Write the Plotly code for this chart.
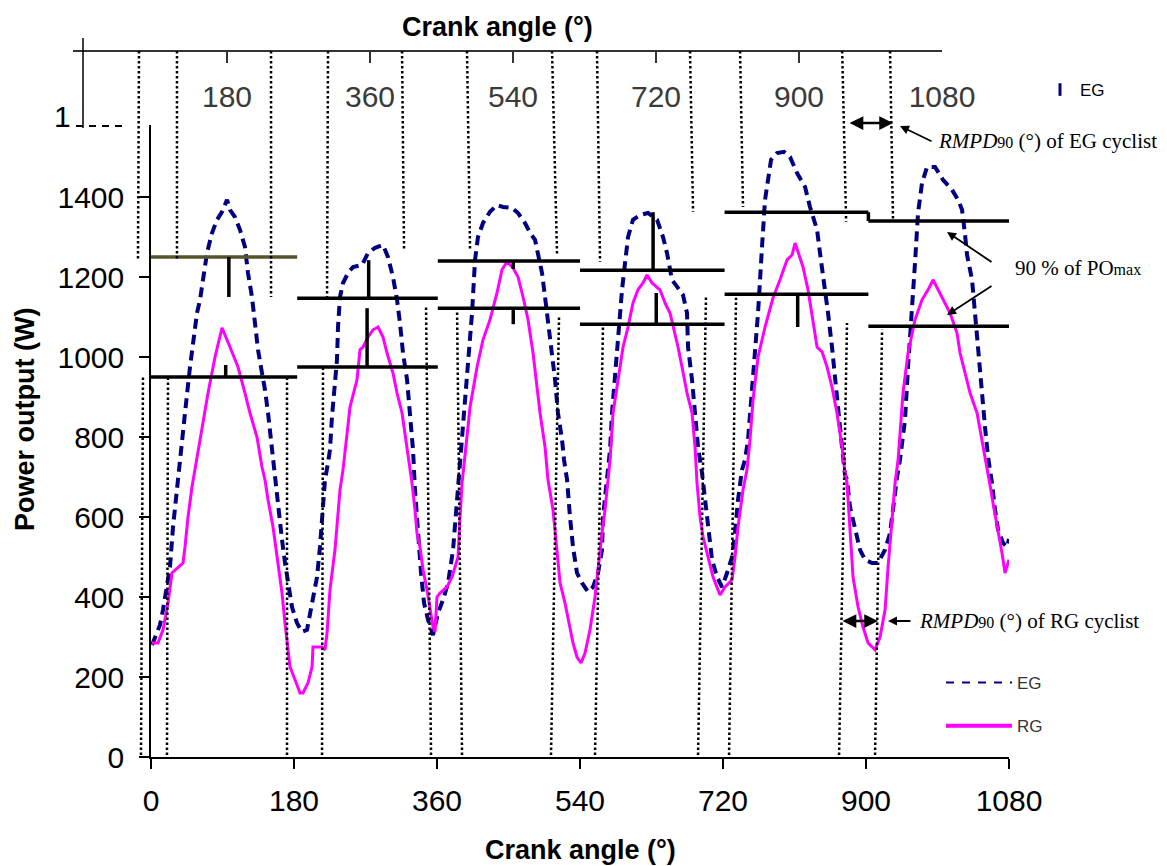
import plotly.graph_objects as go

# ---------------- data ----------------
EG_ANGLE = [1.3, 5.0, 11.3, 15.1, 17.6, 23.9, 27.7, 32.7, 36.5, 42.8, 49.1, 52.9, 57.9, 61.7, 65.5, 70.5, 76.8, 83.1, 89.4, 95.7,
            99.4, 105.7, 112.0, 118.3, 122.1, 127.1, 130.9, 134.7, 139.7, 143.5, 147.3, 152.3, 158.6, 164.9, 168.7, 172.5, 177.5,
            183.8, 190.1, 196.4, 202.7, 209.0, 212.7, 215.3, 219.0, 222.8, 225.3, 227.8, 230.4, 232.9, 234.1, 235.4, 237.9, 241.7,
            248.0, 254.3, 265.6, 273.2, 282.0, 292.0, 298.3, 304.6, 309.7, 313.4, 317.2, 322.3, 326.0, 329.8, 332.3, 336.1, 339.9,
            343.7, 348.7, 355.0, 361.3, 367.6, 373.9, 380.2, 385.2, 389.0, 391.5, 397.8, 404.1, 407.9, 411.6, 417.9, 426.7, 435.5,
            443.1, 454.4, 462.0, 470.8, 477.1, 483.4, 487.2, 492.2, 496.0, 499.7, 504.8, 508.6, 512.3, 517.4, 519.9, 523.7, 527.4,
            531.2, 536.2, 542.5, 550.1, 556.4, 562.7, 567.7, 569.0, 574.0, 577.8, 580.3, 584.1, 587.9, 592.9, 596.7, 600.5, 606.7,
            615.6, 625.6, 637.0, 644.5, 649.5, 655.8, 662.1, 669.7, 674.7, 676.0, 681.0, 684.8, 688.6, 693.6, 697.4, 701.2, 706.2,
            712.5, 718.8, 725.1, 731.4, 735.1, 738.9, 743.9, 747.7, 751.5, 757.8, 764.1, 769.1, 772.9, 780.5, 788.0, 796.8, 804.4,
            813.2, 823.3, 829.5, 838.4, 842.1, 848.4, 852.2, 857.2, 861.0, 864.8, 869.8, 873.6, 876.1, 879.9, 886.2, 892.5, 898.8,
            907.6, 915.1, 924.0, 930.3, 934.0, 939.1, 942.8, 949.1, 952.9, 958.0, 961.7, 965.5, 970.5, 976.8, 986.9, 996.9, 1008.3,
            1015.9, 1020.9, 1024.7, 1027.2, 1033.5, 1037.3, 1041.0, 1046.1, 1049.8, 1053.6, 1058.6, 1062.4, 1066.2, 1072.5, 1077.5, 1080.0]
EG_POWER = [280, 300, 330, 368, 400, 475, 575, 675, 738, 860, 975, 1035, 1110, 1143, 1200, 1260, 1310, 1343, 1363, 1393,
            1368, 1350, 1318, 1275, 1210, 1150, 1085, 1018, 960, 918, 860, 768, 643, 543, 485, 435, 375,
            335, 313, 318, 385, 450, 525, 600, 693, 735, 768, 850, 900, 960, 993, 1075, 1150, 1185,
            1210, 1225, 1230, 1260, 1273, 1280, 1250, 1200, 1143, 1085, 1010, 943, 868, 768, 668, 555, 460,
            385, 343, 305, 360, 393, 435, 518, 643, 743, 825, 975, 1110, 1243, 1300, 1335, 1363, 1380,
            1375, 1373, 1360, 1335, 1310, 1293, 1260, 1210, 1150, 1093, 1018, 943, 860, 793, 743, 693, 600,
            525, 460, 435, 413, 425, 460, 518, 600, 685, 768, 860, 960, 1068, 1168, 1235, 1300, 1343,
            1355, 1360, 1343, 1300, 1260, 1193, 1175, 1155, 1110, 1025, 943, 860, 775, 710, 643, 568, 493,
            450, 425, 460, 500, 560, 643, 718, 743, 793, 943, 1110, 1275, 1393, 1493, 1510, 1513, 1500,
            1460, 1425, 1375, 1318, 1260, 1175, 1110, 1025, 943, 860, 775, 705, 693, 625, 568, 518, 493,
            485, 485, 518, 560, 625, 700, 743, 843, 975, 1110, 1235, 1360, 1435, 1475, 1475, 1443, 1418,
            1393, 1368, 1305, 1255, 1193, 1105, 1005, 910, 825, 750, 685, 618, 568, 535, 525, 545]

RG_ANGLE = [1.3, 8.8, 15.1, 21.4, 26.4, 34.0, 40.3, 42.8, 46.6, 51.6, 55.4, 61.7, 71.8, 80.6, 86.9, 89.4, 99.4, 109.5, 118.3,
            124.6, 133.4, 139.7, 143.5, 147.3, 153.6, 159.9, 164.9, 168.7, 171.2, 175.0, 181.3, 187.6, 191.3, 197.6, 202.7, 203.9,
            215.3, 219.0, 221.6, 225.3, 231.6, 237.9, 241.7, 250.5, 259.3, 263.1, 266.9, 273.2, 279.5, 285.8, 292.0, 297.1, 304.6,
            309.7, 316.0, 322.3, 328.5, 332.3, 334.8, 338.6, 342.4, 347.4, 351.2, 355.0, 357.5, 360.0, 363.8, 372.6, 378.9, 386.5,
            389.0, 391.5, 395.3, 401.6, 410.4, 417.9, 426.7, 435.5, 441.8, 448.1, 455.7, 462.0, 468.3, 474.6, 480.9, 489.7, 496.0,
            499.7, 506.0, 511.1, 514.9, 521.1, 531.2, 536.2, 541.3, 546.3, 552.6, 558.9, 562.7, 567.7, 571.5, 575.3, 577.8, 581.6,
            587.9, 594.2, 600.5, 606.7, 613.0, 619.3, 624.4, 630.7, 640.7, 647.0, 653.3, 659.6, 663.4, 668.4, 674.7, 681.0, 684.8,
            687.3, 691.1, 694.9, 701.2, 707.5, 716.3, 722.6, 731.4, 735.1, 738.9, 745.2, 750.2, 754.0, 757.8, 764.1, 772.9, 779.2,
            783.0, 791.8, 800.6, 806.9, 810.7, 814.4, 820.7, 827.0, 833.3, 838.4, 844.7, 851.0, 857.2, 863.5, 869.8, 873.6, 876.1,
            879.9, 883.7, 890.0, 896.3, 902.6, 911.4, 917.7, 924.0, 927.8, 932.8, 936.6, 940.4, 942.8, 946.6, 952.9, 961.7, 970.5,
            978.1, 984.4, 990.7, 997.0, 1005.8, 1014.6, 1018.4, 1024.7, 1031.0, 1039.8, 1046.1, 1052.4, 1056.1, 1059.9, 1066.2,
            1071.2, 1075.0, 1078.8, 1080.0]
RG_POWER = [285, 285, 318, 385, 460, 473, 485, 525, 600, 675, 718, 800, 910, 1000, 1050, 1073, 1025, 975, 910,
            860, 800, 725, 693, 643, 575, 485, 410, 335, 285, 225, 193, 160, 160, 185, 225, 275,
            275, 268, 310, 418, 518, 668, 718, 875, 943, 1018, 1025, 1050, 1068, 1075, 1050, 1010, 960,
            910, 860, 775, 685, 618, 560, 525, 468, 418, 368, 325, 313, 400, 410, 425, 450, 500,
            600, 685, 755, 875, 975, 1043, 1093, 1160, 1218, 1238, 1223, 1200, 1150, 1093, 1010, 860, 775,
            693, 618, 518, 435, 385, 285, 250, 235, 260, 318, 400, 475, 560, 618, 685, 743, 860,
            943, 1025, 1075, 1135, 1168, 1185, 1205, 1185, 1168, 1135, 1110, 1060, 1025, 975, 910, 860, 775,
            685, 600, 550, 500, 450, 405, 425, 443, 500, 575, 668, 718, 793, 893, 1000, 1075, 1125,
            1148, 1193, 1243, 1255, 1285, 1263, 1225, 1168, 1093, 1025, 1013, 975, 925, 860, 775, 710, 685,
            560, 450, 375, 325, 285, 268, 300, 368, 475, 585, 685, 743, 818, 910, 1010, 1093, 1143,
            1168, 1193, 1168, 1143, 1110, 1060, 1010, 960, 910, 860, 793, 725, 680, 635, 568,
            510, 460, 485, 493]

# 90 % of POmax levels per half-cycle segment
SEG_BOUNDS = [0, 184, 361, 540, 722, 903, 1080]
EG_90 = [1250, 1147, 1240, 1217, 1362, 1340]
RG_90 = [950, 975, 1122, 1082, 1157, 1077]

# peak markers (angle, from, to)
PEAK_ANGLE = [98, 94, 274, 272, 456, 456, 632, 636, 814]
PEAK_FROM = [1250, 950, 1147, 975, 1240, 1122, 1217, 1082, 1157]
PEAK_TO = [1150, 980, 1242, 1122, 1220, 1082, 1362, 1160, 1075]

# dotted RMPD boundaries hanging from the top axis (angle at top, angle at end, end power)
TOP_DOT_A0 = [-15.1, 32.7, 151.1, 222.8, 316.0, 397.8, 504.8, 561.4, 678.5, 741.5, 870.0, 930.3]
TOP_DOT_A1 = [-16.4, 32.7, 151.1, 221.6, 318.5, 401.6, 511.1, 565.2, 682.3, 745.2, 875.0, 934.0]
TOP_DOT_W1 = [1243, 1243, 1150, 1150, 1268, 1268, 1255, 1238, 1363, 1375, 1338, 1343]
TOP_DOT_W0 = 1765
# dotted RMPD boundaries standing on the bottom axis
BOT_DOT_A0 = [-12.6, 20.1, 171.2, 215.3, 352.5, 391.5, 503.5, 558.9, 688.6, 727.6, 866.1, 911.4]
BOT_DOT_A1 = [-10.1, 21.4, 171.2, 216.5, 346.2, 385.2, 513.6, 569.0, 698.6, 736.4, 876.1, 920.2]
BOT_DOT_W1 = [950, 950, 950, 975, 1130, 1125, 1100, 1085, 1155, 1148, 1085, 1068]
BOT_DOT_W0 = 5

X_TICKS = [0, 180, 360, 540, 720, 900, 1080]
TOP_TICKS = [180, 360, 540, 720, 900, 1080]
Y_TICKS = [0, 200, 400, 600, 800, 1000, 1200, 1400]

# ---------------- geometry ----------------
OFF = 8                      # page margin of the html body
FW, FH = 1167 - OFF, 866 - OFF
S = 858 / 1080.0             # px per degree
PXW = 0.4                    # px per watt


def X(p):
    return (p - OFF) / FW


def Y(p):
    return 1 - (p - OFF) / FH


SANS = "Liberation Sans, Arial, sans-serif"
SERIF = "Liberation Serif, Times New Roman, serif"
NAVY = "#000080"
MAG = "#FF00FF"

fig = go.Figure()
fig.add_trace(go.Scatter(x=EG_ANGLE, y=EG_POWER, mode="lines", name="EG", showlegend=False,
                         line=dict(color=NAVY, width=4, dash="10px,6px")))
fig.add_trace(go.Scatter(x=RG_ANGLE, y=RG_POWER, mode="lines", name="RG", showlegend=False,
                         line=dict(color=MAG, width=3)))
# legend entries
fig.add_trace(go.Scatter(x=[None], y=[None], mode="lines", name="EG", legendgroup="eg",
                         line=dict(color=NAVY, width=2, dash="8px,8px")))
fig.add_trace(go.Scatter(x=[None], y=[None], mode="lines", name="RG", legendgroup="rg",
                         line=dict(color=MAG, width=4)))
fig.add_trace(go.Scatter(x=[None], y=[None], mode="markers", name="EG", legend="legend2",
                         marker=dict(symbol="line-ns", size=9, color=NAVY, line=dict(color=NAVY, width=3))))
# helper subplots
for xa, ya in [("x2", "y"), ("x3", "y"), ("x4", "y2")]:
    fig.add_trace(go.Scatter(x=[None], y=[None], xaxis=xa, yaxis=ya, showlegend=False, hoverinfo="skip"))

shapes = []
for i in range(6):
    shapes.append(dict(type="line", xref="x", yref="y", x0=SEG_BOUNDS[i], x1=SEG_BOUNDS[i + 1],
                       y0=EG_90[i], y1=EG_90[i],
                       line=dict(color="#55552b" if i == 0 else "black", width=3.5)))
    shapes.append(dict(type="line", xref="x", yref="y", x0=SEG_BOUNDS[i], x1=SEG_BOUNDS[i + 1],
                       y0=RG_90[i], y1=RG_90[i], line=dict(color="black", width=3.5)))
shapes.append(dict(type="line", xref="x", yref="y", x0=SEG_BOUNDS[5], x1=SEG_BOUNDS[5],
                   y0=EG_90[4], y1=EG_90[5], line=dict(color="black", width=3.5)))
for a, f, t in zip(PEAK_ANGLE, PEAK_FROM, PEAK_TO):
    shapes.append(dict(type="line", xref="x", yref="y", x0=a, x1=a, y0=f, y1=t,
                       line=dict(color="black", width=3.5)))
dot = dict(color="black", width=2.5, dash="2.5px,2.5px")
for a0, a1, w1 in zip(TOP_DOT_A0, TOP_DOT_A1, TOP_DOT_W1):
    shapes.append(dict(type="line", xref="x4", yref="y2", x0=a0, x1=a1, y0=TOP_DOT_W0, y1=w1, line=dot))
for a0, a1, w1 in zip(BOT_DOT_A0, BOT_DOT_A1, BOT_DOT_W1):
    shapes.append(dict(type="line", xref="x4", yref="y2", x0=a0, x1=a1, y0=BOT_DOT_W0, y1=w1, line=dot))
# left end of the upper axis and the clipped 1600 label
shapes.append(dict(type="line", xref="x4", yref="y2", x0=-85.6, x1=-85.6, y0=1797.5, y1=1572.5,
                   line=dict(color="black", width=1.5)))
shapes.append(dict(type="line", xref="x4", yref="y2", x0=-94.4, x1=-36.5, y0=1577.5, y1=1577.5,
                   line=dict(color="black", width=2, dash="7px,6px")))

ann = []


def arrow(xh, yh, xt, yt, both=False, w=1.8, size=1.0):
    ann.append(dict(xref="x4", yref="y2", axref="x4", ayref="y2", x=xh, y=yh, ax=xt, ay=yt, text="",
                    showarrow=True, arrowhead=2, arrowsize=size, arrowwidth=w, arrowcolor="black",
                    arrowside="end+start" if both else "end", standoff=0, startstandoff=0))


arrow(934.0, 1585, 877.4, 1585, both=True, w=2.5, size=1.1)
arrow(942.8, 1577.5, 984.4, 1537.5)
arrow(1002.0, 1312.5, 1059.9, 1235)
arrow(1002.0, 1105, 1059.9, 1180)
arrow(915.1, 340, 868.6, 340, both=True, w=2.5, size=1.1)
arrow(927.7, 340, 957.9, 340)

ann.append(dict(xref="x4", yref="y2", x=988.1, y=1540, xanchor="left", yanchor="middle", showarrow=False,
                text="<i>RMPD</i><span style='font-size:16px'>90</span> (°) of EG cyclist",
                font=dict(family=SERIF, size=21, color="black")))
ann.append(dict(xref="x4", yref="y2", x=1085.0, y=1222.5, xanchor="left", yanchor="middle", showarrow=False,
                text="90 % of PO<span style='font-size:16px'>max</span>",
                font=dict(family=SERIF, size=21, color="black")))
ann.append(dict(xref="x4", yref="y2", x=964.2, y=340, xanchor="left", yanchor="middle", showarrow=False,
                text="<i>RMPD</i><span style='font-size:16px'>90</span> (°) of RG cyclist",
                font=dict(family=SERIF, size=21, color="black")))
# titles
ann.append(dict(xref="paper", yref="paper", x=X(580), y=Y(850), xanchor="center", yanchor="middle",
                showarrow=False, text="<b>Crank angle (°)</b>", font=dict(family=SANS, size=27, color="black")))
ann.append(dict(xref="paper", yref="paper", x=X(497), y=Y(27), xanchor="center", yanchor="middle",
                showarrow=False, text="<b>Crank angle (°)</b>", font=dict(family=SANS, size=27, color="black")))
ann.append(dict(xref="paper", yref="paper", x=X(25), y=Y(420), xanchor="center", yanchor="middle",
                showarrow=False, textangle=-90,
                text="<b>Power output (W)</b>", font=dict(family=SANS, size=27, color="black")))
ann.append(dict(xref="paper", yref="paper", x=X(52), y=Y(117), xanchor="left", yanchor="middle",
                showarrow=False, text="1", font=dict(family=SANS, size=30, color="black")))

noax = dict(showgrid=False, zeroline=False)
fig.update_layout(
    width=FW, height=FH, template="none",
    margin=dict(l=0, r=0, t=0, b=0),
    paper_bgcolor="white", plot_bgcolor="rgba(0,0,0,0)",
    font=dict(family=SANS, color="black"),
    xaxis=dict(domain=[X(151), X(1009)], range=[0, 1080], anchor="y", tickvals=X_TICKS,
               showline=True, linecolor="black", linewidth=1.5, ticks="outside", ticklen=10, tickwidth=1.5,
               tickcolor="black", tickfont=dict(size=30, family=SANS), ticklabelstandoff=6,
               automargin=False, **noax),
    yaxis=dict(domain=[Y(757), Y(125)], range=[0, 1580], anchor="x", tickvals=Y_TICKS,
               showline=True, linecolor="black", linewidth=1.5, ticks="outside", ticklen=10, tickwidth=1.5,
               tickcolor="black", tickfont=dict(size=30, family=SANS), ticklabelstandoff=9,
               automargin=False, **noax),
    xaxis2=dict(domain=[X(73), X(942)], range=[-13.85, 1080], anchor="free", position=Y(51),
                side="top", showline=True, linecolor="#333333", linewidth=2, ticks="inside", ticklen=11,
                tickwidth=2, tickcolor="#333333", tickvals=TOP_TICKS, showticklabels=False,
                automargin=False, **noax),
    xaxis3=dict(domain=[X(73), X(942)], range=[-13.85, 1080], anchor="free", position=Y(76),
                side="bottom", showline=False, ticks="", tickvals=TOP_TICKS,
                tickfont=dict(size=30, family=SANS, color="#3a3a3a"), automargin=False, **noax),
    xaxis4=dict(domain=[0, 1], range=[(OFF - 151) / S, (1167 - 151) / S], anchor="y2", visible=False, **noax),
    yaxis2=dict(domain=[0, 1], range=[(757 - 866) / PXW, (757 - OFF) / PXW], anchor="x4", visible=False, **noax),
    shapes=shapes,
    annotations=ann,
    showlegend=True,
    legend=dict(x=X(941), y=Y(665), xanchor="left", yanchor="top", bgcolor="rgba(0,0,0,0)",
                font=dict(size=17, color="#333333", family=SANS), itemwidth=66, tracegroupgap=18),
    legend2=dict(x=X(1040), y=Y(90), xanchor="left", yanchor="middle", bgcolor="rgba(0,0,0,0)",
                 font=dict(size=17, color="black", family=SANS)),
)

fig.write_html("out.html")
